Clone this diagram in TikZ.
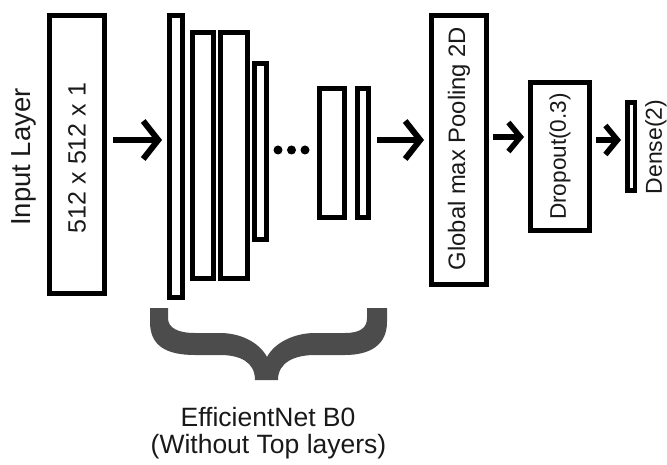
\documentclass[tikz,border=0pt]{standalone}
\usepackage{fontspec}
\setmainfont{Liberation Sans}
\usetikzlibrary{arrows.meta}

\tikzset{
  layer/.style={draw=black, line width=5pt, fill=white, inner sep=0pt,
                rectangle, minimum width=#1},
  vtext/.style={rotate=90, inner sep=0pt, text=black!90,
                font=\fontsize{#1}{#1}\selectfont},
  htext/.style={inner sep=0pt, anchor=base, text=black!90,
                font=\fontsize{26.5}{27}\selectfont},
  bigarrow/.style={line width=6pt, shorten <=6pt, shorten >=5pt,
                   -{Straight Barb[length=15pt,width=38pt]}},
  smallarrow/.style={line width=5.5pt, shorten <=4pt, shorten >=4pt,
                   -{Straight Barb[length=12pt,width=29pt]}},
  dotmark/.style={circle, fill=black, inner sep=0pt, minimum size=9pt},
}

\begin{document}
\begin{tikzpicture}[x=1pt, y=-1pt]
  \useasboundingbox (0,0) rectangle (667,465);

  % input layer
  \node[layer=55, minimum height=278] (inp) at (77,154.5) {};
  \node[vtext=25] (inptxt) at (77,158) {512 x 512 x 1};
  \node[vtext=27.5] (inplabel) at (24,157) {Input Layer};

  % EfficientNet B0 blocks
  \node[layer=13, minimum height=282] (b1) at (176,156.5) {};
  \node[layer=21, minimum height=246] (b2) at (203,155.5) {};
  \node[layer=27, minimum height=246] (b3) at (234,155.5) {};
  \node[layer=12, minimum height=176] (b4) at (260.5,151.5) {};
  \node[dotmark] (d1) at (278,150) {};
  \node[dotmark] (d2) at (291.5,150) {};
  \node[dotmark] (d3) at (305,150) {};
  \node[layer=25, minimum height=129] (b5) at (332,153) {};
  \node[layer=11, minimum height=129] (b6) at (363,153) {};

  % head layers
  \node[layer=55, minimum height=269] (gmp) at (459,150) {};
  \node[vtext=23.8] (gmptxt) at (459,148.5) {Global max Pooling 2D};
  \node[layer=59, minimum height=148] (drop) at (560,156.5) {};
  \node[vtext=22.6] (droptxt) at (560,156.5) {Dropout(0.3)};
  \node[layer=7.5, line width=4.5pt, minimum height=88] (dense) at (631,146.5) {};
  \node[vtext=23] (densetxt) at (656,147) {Dense(2)};

  % arrow heights
  \coordinate (ay) at (0,140);
  \coordinate (ay3) at (0,137);

  \draw[bigarrow] (inp.east |- ay) -- (b1.west |- ay);
  \draw[bigarrow] (b6.east |- ay) -- (gmp.west |- ay);
  \draw[smallarrow] (gmp.east |- ay3) -- (drop.west |- ay3);
  \draw[smallarrow] (drop.east |- ay) -- (dense.west |- ay);

  % brace under the backbone
  \fill[black!70] (150,308) -- (150,322)
    .. controls (150,345) and (165,355) .. (195,355) -- (220,355)
    .. controls (240,355) and (255,362) .. (255,380) -- (278,380)
    .. controls (278,362) and (295,355) .. (315,355) -- (345,355)
    .. controls (370,355) and (387,345) .. (387,322) -- (387,308)
    -- (367,308) -- (367,318)
    .. controls (367,328) and (360,333) .. (345,333) -- (315,333)
    .. controls (295,333) and (275,342) .. (267,357)
    .. controls (259,342) and (240,333) .. (220,333) -- (195,333)
    .. controls (178,333) and (168,328) .. (168,318) -- (168,308) -- cycle;

  \node[htext] (cap1) at (268,426) {EfficientNet B0};
  \node[htext] (cap2) at (268.5,453) {(Without Top layers)};
\end{tikzpicture}
\end{document}
